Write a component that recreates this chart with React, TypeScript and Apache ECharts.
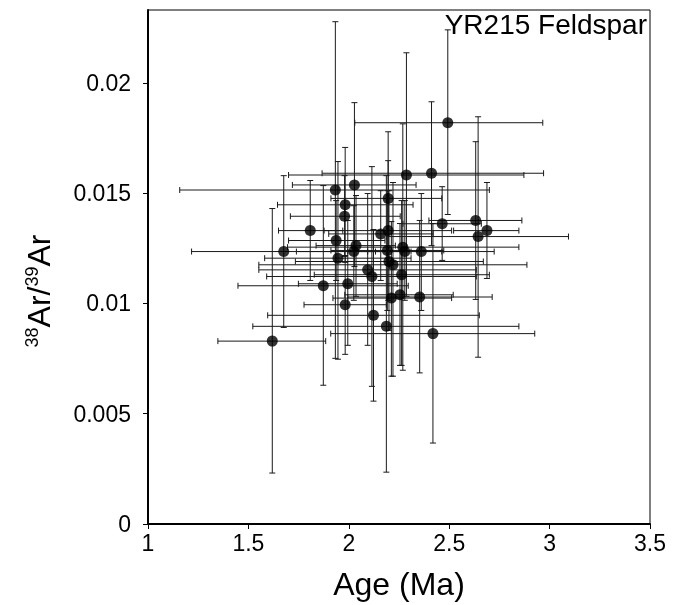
import React, { useEffect, useRef } from "react";
import * as echarts from "echarts";

const age = [2.493, 2.287, 2.412, 1.933, 2.028, 2.196, 1.982, 1.979, 2.465, 2.632, 2.688, 2.644, 1.808, 2.196, 2.159, 1.937, 1.676, 2.036, 2.025, 2.192, 2.269, 2.279, 2.361, 1.946, 2.2, 2.22, 2.094, 2.115, 2.263, 1.873, 1.995, 2.212, 2.255, 2.353, 1.982, 2.123, 2.187, 2.419, 1.619];
const ratio = [0.01819, 0.01582, 0.0159, 0.01514, 0.01537, 0.01476, 0.01447, 0.01395, 0.01361, 0.01376, 0.0133, 0.01303, 0.0133, 0.0133, 0.01315, 0.01285, 0.01235, 0.01262, 0.01235, 0.0124, 0.01255, 0.01235, 0.01235, 0.01205, 0.0119, 0.01175, 0.01152, 0.01122, 0.0113, 0.0108, 0.01089, 0.01024, 0.01039, 0.01029, 0.00994, 0.00946, 0.00896, 0.00863, 0.00829];
const ageLow = [2.03, 1.7, 1.867, 1.158, 1.719, 1.911, 1.645, 1.709, 2.27, 2.399, 2.522, 2.187, 1.65, 1.877, 1.9, 1.7, 1.217, 1.837, 1.739, 1.911, 1.695, 2.094, 1.995, 1.581, 1.734, 1.552, 1.552, 1.591, 1.828, 1.448, 1.749, 1.921, 1.98, 1.995, 1.777, 1.596, 1.522, 1.91, 1.348];
const ageHigh = [2.966, 2.872, 2.97, 2.7, 2.335, 2.463, 2.32, 2.256, 2.66, 2.862, 2.847, 3.094, 1.97, 2.512, 2.42, 2.18, 2.133, 2.232, 2.31, 2.473, 2.847, 2.463, 2.724, 2.31, 2.67, 2.887, 2.635, 2.635, 2.7, 2.296, 2.241, 2.512, 2.52, 2.714, 2.187, 2.65, 2.847, 2.926, 1.885];
const ratioLow = [0.01403, 0.01032, 0.01262, 0.00751, 0.01167, 0.01176, 0.01186, 0.01213, 0.01195, 0.01018, 0.01113, 0.00756, 0.01104, 0.01014, 0.01104, 0.01104, 0.00891, 0.01032, 0.01014, 0.00968, 0.00697, 0.01014, 0.00968, 0.00747, 0.00878, 0.0067, 0.0081, 0.00624, 0.00719, 0.00629, 0.0081, 0.0067, 0.00719, 0.00685, 0.00769, 0.00557, 0.00235, 0.00367, 0.00231];
const ratioHigh = [0.0224, 0.02136, 0.01914, 0.02277, 0.0191, 0.01778, 0.01707, 0.01579, 0.01529, 0.01733, 0.01548, 0.01846, 0.01557, 0.01647, 0.01511, 0.01466, 0.01579, 0.01489, 0.01443, 0.01511, 0.01814, 0.01466, 0.01498, 0.01643, 0.01511, 0.01548, 0.01498, 0.0162, 0.01466, 0.01534, 0.01376, 0.01371, 0.01362, 0.01376, 0.01217, 0.01335, 0.01579, 0.01362, 0.0143];

const xTicks = [1, 1.5, 2, 2.5, 3, 3.5];
const yTicks = [0, 0.005, 0.01, 0.015, 0.02];
const titleText = "YR215 Feldspar";
const xName = "Age (Ma)";
const yNameParts = ["38", "Ar/", "39", "Ar"];

const FONT = "'Liberation Sans', Arial, sans-serif";

export default function App() {
  const ref = useRef<HTMLDivElement>(null);
  useEffect(() => {
    if (!ref.current) return;
    const chart = echarts.init(ref.current, undefined, { renderer: "svg" });
    const errData = age.map((a, i) => [a, ratio[i], ageLow[i], ageHigh[i], ratioLow[i], ratioHigh[i]]);
    const cap = 3;
    const lineStyle = { stroke: "#1a1a1a", lineWidth: 1 };
    const option: any = {
      animation: false,
      grid: { left: 148, right: 30, top: 10, bottom: 81, show: true, borderColor: "#000", borderWidth: 1 },
      xAxis: {
        type: "value",
        min: 1,
        max: 3.5,
        interval: 0.5,
        name: xName,
        nameLocation: "middle",
        nameGap: 44,
        nameTextStyle: { fontFamily: FONT, fontSize: 32, color: "#000" },
        axisLine: { show: true, onZero: false, lineStyle: { color: "#000", width: 2 } },
        axisTick: { show: true, length: 5, lineStyle: { color: "#000" } },
        axisLabel: {
          fontFamily: FONT,
          fontSize: 23,
          color: "#000",
          margin: 7,
          formatter: (v: number) => (xTicks.some((t) => Math.abs(t - v) < 1e-9) ? String(v) : ""),
        },
        splitLine: { show: false },
      },
      yAxis: {
        type: "value",
        min: 0,
        max: 0.0233,
        interval: 0.005,
        axisLine: { show: true, onZero: false, lineStyle: { color: "#000", width: 2 } },
        axisTick: { show: true, length: 5, lineStyle: { color: "#000" } },
        axisLabel: {
          fontFamily: FONT,
          fontSize: 23,
          color: "#000",
          margin: 17,
          showMaxLabel: false,
          formatter: (v: number) => {
            const t = yTicks.find((tt) => Math.abs(tt - v) < 1e-9);
            return t === undefined ? "" : String(t);
          },
        },
        splitLine: { show: false },
      },
      graphic: [
        {
          type: "text",
          right: 33,
          top: 10,
          style: { text: titleText, fontFamily: FONT, fontSize: 28, fill: "#000" },
        },
        {
          type: "text",
          x: 39,
          y: 291,
          rotation: Math.PI / 2,
          style: {
            text: `{sup|${yNameParts[0]}}{big|${yNameParts[1]}}{sup|${yNameParts[2]}}{big|${yNameParts[3]}}`,
            align: "center",
            verticalAlign: "middle",
            fill: "#000",
            rich: {
              big: { fontFamily: FONT, fontSize: 32, fill: "#000" },
              sup: { fontFamily: FONT, fontSize: 18, fill: "#000", verticalAlign: "top", padding: [0, 0, 14, 0] },
            },
          },
        },
      ],
      series: [
        {
          type: "custom",
          data: errData,
          renderItem: (params: any, api: any) => {
            const x = api.value(0);
            const y = api.value(1);
            const p0 = api.coord([api.value(2), y]);
            const p1 = api.coord([api.value(3), y]);
            const q0 = api.coord([x, api.value(4)]);
            const q1 = api.coord([x, api.value(5)]);
            const mk = (x1: number, y1: number, x2: number, y2: number) => ({
              type: "line",
              shape: { x1, y1, x2, y2 },
              style: lineStyle,
            });
            return {
              type: "group",
              children: [
                mk(p0[0], p0[1], p1[0], p1[1]),
                mk(p0[0], p0[1] - cap, p0[0], p0[1] + cap),
                mk(p1[0], p1[1] - cap, p1[0], p1[1] + cap),
                mk(q0[0], q0[1], q1[0], q1[1]),
                mk(q0[0] - cap, q0[1], q0[0] + cap, q0[1]),
                mk(q1[0] - cap, q1[1], q1[0] + cap, q1[1]),
              ],
            };
          },
          z: 1,
        },
        {
          type: "scatter",
          data: age.map((a, i) => [a, ratio[i]]),
          symbol: "circle",
          symbolSize: 11,
          itemStyle: { color: "#000" },
          z: 2,
        },
      ],
    };
    chart.setOption(option);
    return () => chart.dispose();
  }, []);
  return <div ref={ref} style={{ position: "fixed", left: 0, top: 0, width: 680, height: 605 }} />;
}
